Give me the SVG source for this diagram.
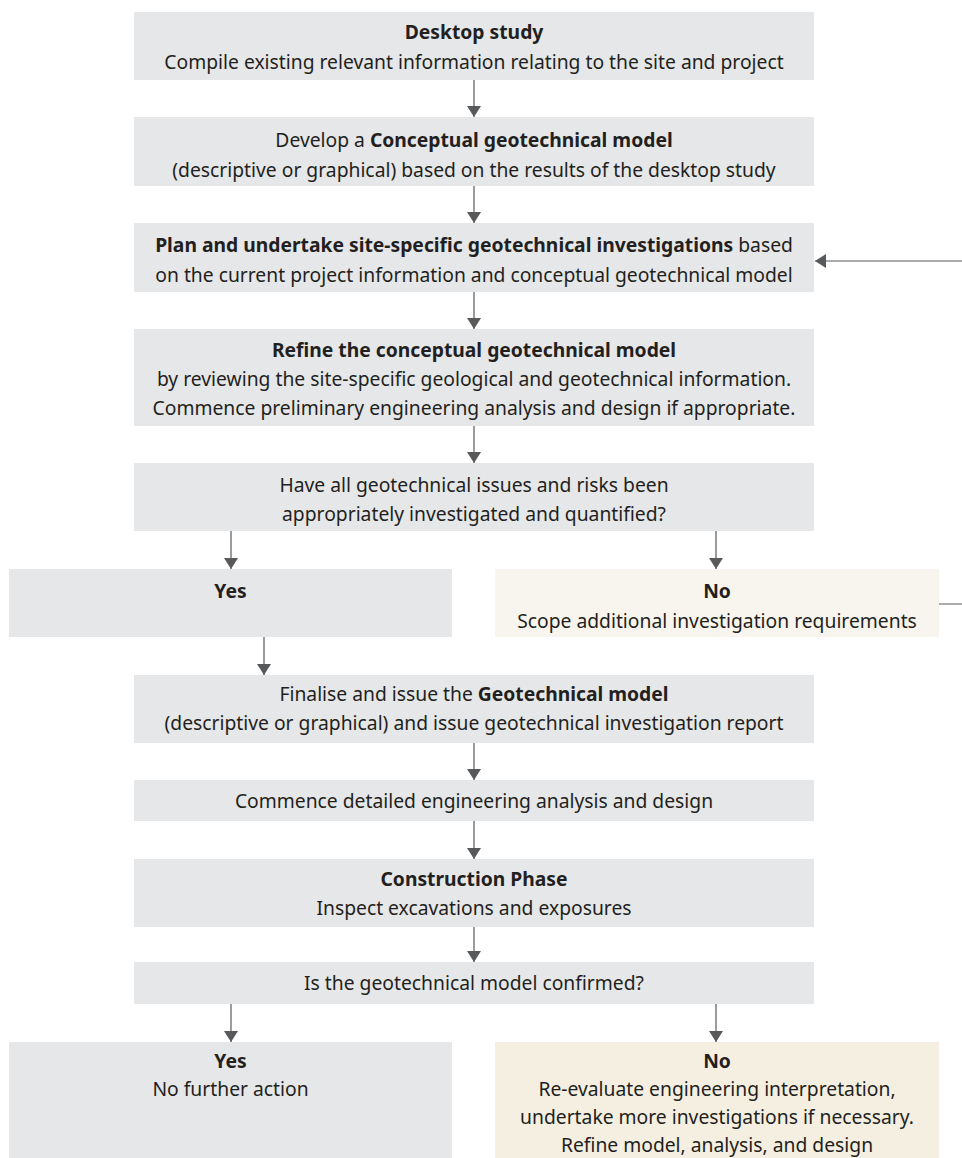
<svg xmlns="http://www.w3.org/2000/svg" width="962" height="1158" viewBox="0 0 962 1158">
<style>
.g{fill:#e6e7e8}
.b1{fill:#f8f5ee}
.b2{fill:#f5efe2}
text{font-family:"Noto Sans","Open Sans","Liberation Sans",sans-serif;font-size:19.3px;fill:#231f20;text-anchor:middle}
.bd{font-weight:bold}
.c{stroke:#58595b;stroke-width:1.2;fill:none}
</style>
<defs>
<marker id="ah" markerUnits="userSpaceOnUse" markerWidth="14" markerHeight="14" refX="11" refY="7" orient="auto">
<path d="M0,0 L11,7 L0,14 Z" fill="#58595b"/>
</marker>
</defs>
<rect width="962" height="1158" fill="#fff"/>
<g id="n1"><rect class="g" x="134" y="12" width="680" height="68"/>
<text x="474" y="39" class="bd">Desktop study</text>
<text x="474" y="69">Compile existing relevant information relating to the site and project</text></g>
<g id="n2"><rect class="g" x="134" y="117" width="680" height="69"/>
<text x="474" y="147">Develop a <tspan class="bd">Conceptual geotechnical model</tspan></text>
<text x="474" y="177">(descriptive or graphical) based on the results of the desktop study</text></g>
<g id="n3"><rect class="g" x="134" y="223" width="680" height="69"/>
<text x="474" y="252"><tspan class="bd">Plan and undertake site-specific geotechnical investigations</tspan> based</text>
<text x="474" y="282">on the current project information and conceptual geotechnical model</text></g>
<g id="n4"><rect class="g" x="134" y="329" width="680" height="97"/>
<text x="474" y="357" class="bd">Refine the conceptual geotechnical model</text>
<text x="474" y="386">by reviewing the site-specific geological and geotechnical information.</text>
<text x="474" y="415">Commence preliminary engineering analysis and design if appropriate.</text></g>
<g id="n5"><rect class="g" x="134" y="463" width="680" height="68"/>
<text x="474" y="492">Have all geotechnical issues and risks been</text>
<text x="474" y="521">appropriately investigated and quantified?</text></g>
<g id="n6"><rect class="g" x="9" y="569" width="443" height="68"/>
<text x="230.5" y="598" class="bd">Yes</text></g>
<g id="n7"><rect class="b1" x="495" y="569" width="444" height="68"/>
<text x="717" y="598" class="bd">No</text>
<text x="717" y="628">Scope additional investigation requirements</text></g>
<g id="n8"><rect class="g" x="134" y="675" width="680" height="68"/>
<text x="474" y="701">Finalise and issue the <tspan class="bd">Geotechnical model</tspan></text>
<text x="474" y="730">(descriptive or graphical) and issue geotechnical investigation report</text></g>
<g id="n9"><rect class="g" x="134" y="780" width="680" height="41"/>
<text x="474" y="808">Commence detailed engineering analysis and design</text></g>
<g id="n10"><rect class="g" x="134" y="859" width="680" height="68"/>
<text x="474" y="886" class="bd">Construction Phase</text>
<text x="474" y="915">Inspect excavations and exposures</text></g>
<g id="n11"><rect class="g" x="134" y="962" width="680" height="42"/>
<text x="474" y="990">Is the geotechnical model confirmed?</text></g>
<g id="n12"><rect class="g" x="9" y="1042" width="443" height="116"/>
<text x="230.5" y="1068" class="bd">Yes</text>
<text x="230.5" y="1096">No further action</text></g>
<g id="n13"><rect class="b2" x="495" y="1042" width="444" height="116"/>
<text x="717" y="1068" class="bd">No</text>
<text x="717" y="1096">Re-evaluate engineering interpretation,</text>
<text x="717" y="1124">undertake more investigations if necessary.</text>
<text x="717" y="1152">Refine model, analysis, and design</text></g>
<g id="connectors">
<path class="c" d="M474,80 V117" marker-end="url(#ah)"/>
<path class="c" d="M474,186 V223" marker-end="url(#ah)"/>
<path class="c" d="M474,292 V329" marker-end="url(#ah)"/>
<path class="c" d="M474,426 V463" marker-end="url(#ah)"/>
<path class="c" d="M231,531 V569" marker-end="url(#ah)"/>
<path class="c" d="M716,531 V569" marker-end="url(#ah)"/>
<path class="c" d="M264,637 V675" marker-end="url(#ah)"/>
<path class="c" d="M474,743 V780" marker-end="url(#ah)"/>
<path class="c" d="M474,821 V859" marker-end="url(#ah)"/>
<path class="c" d="M474,927 V962" marker-end="url(#ah)"/>
<path class="c" d="M231,1004 V1042" marker-end="url(#ah)"/>
<path class="c" d="M716,1004 V1042" marker-end="url(#ah)"/>
<path class="c" d="M939,604 H980 V261 H815" marker-end="url(#ah)"/>
</g>
</svg>
